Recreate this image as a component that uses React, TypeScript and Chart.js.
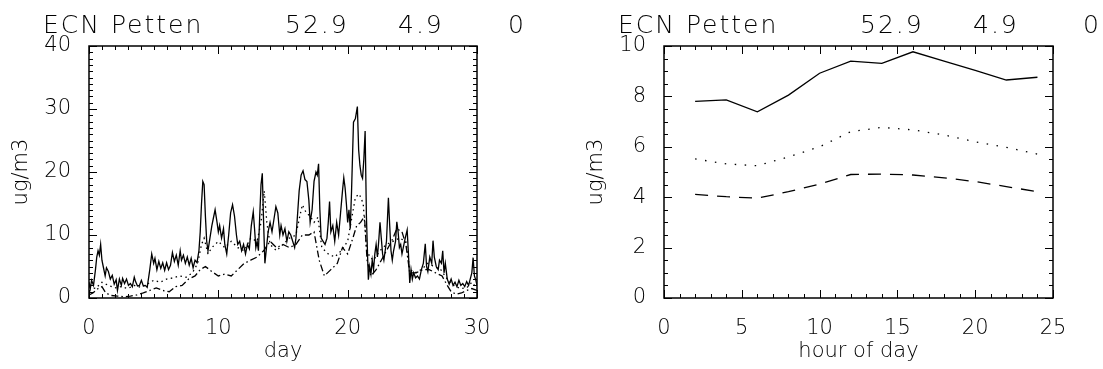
import { useEffect, useRef } from "react";
import { Chart, registerables } from "chart.js";

Chart.register(...registerables);

const TITLE_PARTS = ["ECN Petten", "52.9", "4.9", "0"];
const Y_TITLE = "ug/m3";
const X_TITLE_DAY = "day";
const X_TITLE_HOUR = "hour of day";

// Left panel: daily time series (day, value)
const SOLID_DAYS = [
  0, 0.1, 0.2, 0.35, 0.5, 0.6, 0.7, 0.8, 0.9, 1.0, 1.1, 1.25, 1.35, 1.5, 1.65, 1.8, 1.95, 2.1, 2.2, 2.35,
  2.5, 2.6, 2.75, 2.9, 3.05, 3.2, 3.35, 3.5, 3.6, 3.75, 3.9, 4.05, 4.2, 4.35, 4.5, 4.7, 4.85, 5.0, 5.1, 5.25,
  5.4, 5.55, 5.7, 5.85, 6.0, 6.15, 6.3, 6.45, 6.6, 6.75, 6.9, 7.05, 7.15, 7.3, 7.45, 7.6, 7.75, 7.9, 8.05, 8.2,
  8.35, 8.5, 8.6, 8.7, 8.8, 8.9, 9.0, 9.1, 9.2, 9.35, 9.5, 9.6, 9.75, 9.9, 10.0, 10.1, 10.25, 10.4, 10.5, 10.65,
  10.8, 10.95, 11.1, 11.25, 11.4, 11.5, 11.65, 11.8, 11.95, 12.1, 12.25, 12.4, 12.55, 12.7, 12.8, 12.9, 13.0, 13.1, 13.2, 13.3,
  13.4, 13.5, 13.6, 13.7, 13.85, 14.0, 14.15, 14.3, 14.45, 14.6, 14.75, 14.85, 15.0, 15.15, 15.3, 15.45, 15.6, 15.75, 15.9, 16.0,
  16.1, 16.25, 16.4, 16.55, 16.7, 16.85, 17.0, 17.1, 17.25, 17.4, 17.55, 17.65, 17.75, 17.85, 17.95, 18.1, 18.25, 18.4, 18.5, 18.6,
  18.7, 18.85, 19.0, 19.15, 19.3, 19.45, 19.6, 19.7, 19.8, 19.9, 20.0, 20.1, 20.2, 20.3, 20.45, 20.6, 20.75, 20.85, 20.95, 21.05,
  21.15, 21.25, 21.35, 21.45, 21.55, 21.6, 21.7, 21.8, 21.9, 22.0, 22.1, 22.2, 22.3, 22.4, 22.5, 22.6, 22.7, 22.8, 22.9, 23.0,
  23.15, 23.25, 23.35, 23.45, 23.55, 23.7, 23.8, 23.9, 24.0, 24.1, 24.2, 24.3, 24.45, 24.6, 24.7, 24.8, 24.9, 25.0, 25.1, 25.25,
  25.4, 25.55, 25.7, 25.85, 26.0, 26.1, 26.2, 26.35, 26.5, 26.6, 26.7, 26.85, 27.0, 27.1, 27.25, 27.35, 27.45, 27.55, 27.7, 27.85,
  28.0, 28.15, 28.3, 28.45, 28.6, 28.75, 28.9, 29.05, 29.2, 29.35, 29.5, 29.6, 29.7, 29.8, 29.9, 30.0,
];
const SOLID_VALUES = [
  2.5, 1.5, 2.8, 2.0, 4.5, 6.5, 7.5, 6.8, 8.5, 6.0, 5.0, 3.5, 4.8, 4.2, 3.0, 3.6, 2.2, 2.9, 1.2, 3.0,
  2.0, 3.1, 2.3, 3.0, 2.0, 2.3, 1.8, 3.3, 2.6, 1.9, 2.0, 2.8, 1.9, 2.0, 1.7, 4.5, 7.0, 5.5, 6.3, 4.5,
  5.8, 4.7, 5.6, 4.4, 5.6, 4.5, 5.2, 7.2, 5.8, 6.8, 5.2, 7.5, 6.0, 6.8, 5.5, 6.5, 5.2, 6.3, 4.8, 6.0,
  5.6, 7.5, 10.5, 15.0, 18.5, 18.0, 13.0, 9.0, 7.5, 9.5, 11.5, 12.5, 14.0, 12.0, 10.5, 11.5, 9.5, 11.0, 8.5, 7.0,
  10.0, 13.5, 14.8, 13.0, 10.0, 8.5, 9.0, 7.5, 8.5, 7.0, 8.5, 7.8, 11.5, 13.7, 11.0, 8.0, 9.0, 7.5, 13.0, 18.0,
  19.8, 12.0, 5.5, 7.5, 10.5, 12.0, 10.5, 12.5, 14.5, 13.5, 10.0, 11.5, 10.0, 11.0, 9.0, 10.5, 10.0, 9.0, 8.0, 9.5,
  12.5, 17.0, 19.5, 20.2, 18.8, 18.5, 15.5, 12.0, 14.0, 18.5, 20.0, 19.5, 21.3, 14.0, 9.5, 9.0, 8.5, 9.5, 12.0, 15.3,
  10.5, 11.5, 9.0, 12.0, 10.0, 13.5, 17.0, 19.1, 17.5, 15.0, 12.0, 14.0, 11.0, 17.0, 27.9, 28.5, 30.4, 23.5, 21.0, 19.5,
  19.0, 22.0, 26.5, 13.0, 6.0, 2.9, 5.0, 3.8, 6.0, 4.5, 7.0, 8.5, 6.5, 9.0, 12.0, 9.5, 7.0, 6.0, 7.5, 9.0,
  15.9, 11.5, 7.5, 6.0, 7.5, 9.0, 12.1, 10.5, 8.0, 8.5, 7.0, 8.0, 9.5, 10.8, 7.0, 2.4, 4.5, 3.0, 4.0, 3.2,
  3.5, 3.0, 4.5, 5.5, 8.6, 5.0, 4.2, 6.5, 5.5, 9.1, 6.5, 5.0, 4.5, 6.0, 5.5, 7.5, 4.0, 5.5, 3.0, 2.2,
  3.0, 2.0, 2.5, 1.8, 2.8, 2.0, 2.3, 1.8, 2.6, 2.0, 3.2, 4.0, 6.4, 3.5, 2.9, 2.0,
];

const DOTTED_DAYS = [
  0, 0.5, 1.0, 1.5, 2.0, 2.5, 3.0, 3.5, 4.0, 4.5, 5.0, 5.5, 6.0, 6.5, 7.0, 7.5, 8.0, 8.4, 8.7, 8.9,
  9.2, 9.5, 10.0, 10.5, 11.0, 11.5, 12.0, 12.5, 13.0, 13.3, 13.55, 13.75, 14.0, 14.5, 15.0, 15.5, 16.0, 16.3, 16.5, 16.8,
  17.1, 17.4, 17.7, 18.0, 18.5, 19.0, 19.5, 20.0, 20.3, 20.6, 20.9, 21.2, 21.45, 21.7, 22.0, 22.5, 23.0, 23.5, 24.0, 24.5,
  24.8, 25.2, 25.7, 26.2, 26.7, 27.2, 27.7, 28.2, 28.7, 29.2, 29.6, 30.0,
];
const DOTTED_VALUES = [
  1.8, 1.5, 2.5, 2.0, 1.6, 1.8, 1.5, 2.0, 1.7, 2.2, 2.8, 2.5, 3.0, 3.2, 3.5, 3.3, 4.0, 5.5, 8.5, 9.5,
  7.0, 8.0, 9.0, 8.0, 9.0, 8.0, 7.5, 9.5, 9.0, 12.0, 17.0, 12.0, 8.5, 7.5, 8.5, 9.5, 10.0, 13.0, 14.8, 13.5,
  13.0, 12.0, 12.8, 8.0, 7.0, 6.5, 7.5, 9.0, 12.5, 16.0, 16.5, 15.0, 8.0, 6.5, 6.0, 7.5, 8.5, 9.0, 9.5, 9.0,
  4.5, 4.0, 4.5, 5.5, 5.0, 4.5, 3.0, 2.0, 1.5, 1.6, 2.5, 1.5,
];

const DASHDOT_DAYS = [
  0, 0.3, 0.7, 1.0, 1.3, 1.7, 2.2, 2.7, 3.2, 3.7, 4.2, 4.7, 5.2, 5.7, 6.2, 6.7, 7.2, 7.7, 8.2, 8.6,
  9.0, 9.5, 10.0, 10.5, 11.0, 11.5, 12.0, 12.5, 13.0, 13.5, 14.0, 14.5, 15.0, 15.5, 16.0, 16.5, 17.0, 17.4, 17.8, 18.2,
  18.7, 19.2, 19.6, 20.0, 20.4, 20.7, 21.0, 21.3, 21.5, 21.8, 22.2, 22.6, 23.0, 23.4, 23.8, 24.2, 24.5, 24.8, 25.3, 25.8,
  26.3, 26.8, 27.3, 27.7, 28.0, 28.4, 28.8, 29.2, 29.6, 30.0,
];
const DASHDOT_VALUES = [
  0.5, 0.8, 1.5, 1.8, 0.8, 0.4, 0.3, 0.2, 0.3, 0.5, 0.8, 1.2, 1.6, 1.2, 1.0, 1.8, 2.0, 3.0, 3.5, 4.5,
  5.0, 4.2, 3.5, 3.8, 3.5, 4.5, 5.5, 6.0, 6.5, 7.5, 9.0, 8.0, 8.5, 8.0, 8.5, 10.0, 10.0, 10.5, 6.0, 3.5,
  4.5, 5.5, 8.0, 7.0, 9.5, 11.5, 12.0, 13.0, 6.0, 3.5, 4.5, 6.0, 7.5, 9.0, 11.0, 10.5, 8.5, 4.0, 4.0, 4.5,
  4.5, 4.0, 3.5, 2.0, 1.0, 0.6, 0.8, 1.2, 1.5, 1.2,
];

// Right panel: diurnal cycle
const HOURS = [2, 4, 6, 8, 10, 12, 14, 16, 18, 20, 22, 24];
const HOUR_SOLID = [7.8, 7.86, 7.39, 8.05, 8.92, 9.4, 9.31, 9.77, 9.4, 9.03, 8.65, 8.76];
const HOUR_DOTTED = [5.52, 5.32, 5.25, 5.6, 6.0, 6.6, 6.77, 6.67, 6.47, 6.2, 5.98, 5.71];
const HOUR_DASHED = [4.11, 4.02, 3.96, 4.22, 4.52, 4.9, 4.92, 4.88, 4.77, 4.62, 4.42, 4.22];

const FAMILY = "'DejaVu Sans', 'Liberation Sans', sans-serif";
const TICK_FONT = { family: FAMILY, size: 21, weight: 200 as any };

const pairs = (xs: number[], ys: number[]) => xs.map((x, i) => ({ x, y: ys[i] }));

const framePlugin = {
  id: "frame",
  afterDatasetsDraw(chart: any, _args: any, opts: any) {
    const { ctx, chartArea: a, scales } = chart;
    ctx.save();
    ctx.strokeStyle = "#000";
    ctx.lineWidth = 1;
    const ticks = (scale: any, major: number, minor: number, horizontal: boolean) => {
      const n = Math.round((scale.max - scale.min) / minor);
      for (let i = 0; i <= n; i++) {
        const v = scale.min + i * minor;
        const isMajor = Math.abs(v / major - Math.round(v / major)) < 1e-6;
        const len = isMajor ? 8 : 4;
        const p = Math.round(scale.getPixelForValue(v)) + 0.5;
        ctx.beginPath();
        if (horizontal) {
          ctx.moveTo(p, a.bottom);
          ctx.lineTo(p, a.bottom - len);
          ctx.moveTo(p, a.top);
          ctx.lineTo(p, a.top + len);
        } else {
          ctx.moveTo(a.left, p);
          ctx.lineTo(a.left + len, p);
          ctx.moveTo(a.right, p);
          ctx.lineTo(a.right - len, p);
        }
        ctx.stroke();
      }
    };
    ticks(scales.x, opts.xMajor, opts.xMinor, true);
    ticks(scales.y, opts.yMajor, opts.yMinor, false);
    ctx.lineWidth = 1.5;
    ctx.strokeRect(a.left, a.top, a.right - a.left, a.bottom - a.top);
    ctx.restore();
  },
};

const headerPlugin = {
  id: "header",
  afterDraw(chart: any, _args: any, opts: any) {
    const { ctx, chartArea: a } = chart;
    ctx.save();
    ctx.fillStyle = "#000";
    ctx.font = `200 25px ${FAMILY}`;
    ctx.textBaseline = "alphabetic";
    ctx.textAlign = "left";
    try {
      (ctx as any).letterSpacing = "2px";
    } catch (e) {}
    const offsets = [-46, 196, 309, 419];
    (opts.parts as string[]).forEach((t, i) => ctx.fillText(t, a.left + offsets[i], 33));
    ctx.restore();
  },
};

function makeConfig(
  datasets: any[],
  xMax: number,
  xStep: number,
  xMinor: number,
  yMax: number,
  yStep: number,
  yMinor: number,
  xTitle: string,
  rightPad: number
): any {
  return {
    type: "line",
    data: { datasets },
    options: {
      responsive: false,
      animation: false,
      events: [],
      layout: { padding: { left: 0, top: 46, right: rightPad, bottom: 0 } },
      elements: { point: { radius: 0 }, line: { tension: 0, borderWidth: 1.3, borderColor: "#000" } },
      plugins: {
        legend: { display: false },
        tooltip: { enabled: false },
        frame: { xMajor: xStep, xMinor, yMajor: yStep, yMinor },
        header: { parts: TITLE_PARTS },
      },
      scales: {
        x: {
          type: "linear",
          min: 0,
          max: xMax,
          ticks: { stepSize: xStep, font: TICK_FONT, color: "#000", padding: 10, maxRotation: 0, autoSkip: false },
          grid: { display: false },
          border: { display: false },
          title: { display: true, text: xTitle, font: TICK_FONT, color: "#000", padding: { top: 0, bottom: 5 } },
          afterFit: (s: any) => {
            s.height = 71;
          },
        },
        y: {
          type: "linear",
          min: 0,
          max: yMax,
          ticks: { stepSize: yStep, font: TICK_FONT, color: "#000", padding: 10 },
          grid: { display: false },
          border: { display: false },
          title: { display: true, text: Y_TITLE, font: TICK_FONT, color: "#000", padding: { top: 9, bottom: 0 } },
          afterFit: (s: any) => {
            s.width = 89;
          },
        },
      },
    },
    plugins: [framePlugin, headerPlugin],
  };
}

export default function App() {
  const leftRef = useRef<HTMLCanvasElement>(null);
  const rightRef = useRef<HTMLCanvasElement>(null);

  useEffect(() => {
    const line = (data: any[], dash: number[]) => ({
      data,
      borderColor: "#000",
      borderWidth: 1.3,
      borderDash: dash,
      fill: false,
      pointRadius: 0,
    });
    const left = new Chart(
      leftRef.current!,
      makeConfig(
        [
          line(pairs(SOLID_DAYS, SOLID_VALUES), []),
          line(pairs(DOTTED_DAYS, DOTTED_VALUES), [1.5, 3.5]),
          line(pairs(DASHDOT_DAYS, DASHDOT_VALUES), [7, 3, 1.5, 3]),
        ],
        30, 10, 1, 40, 10, 1, X_TITLE_DAY, 98
      )
    );
    const right = new Chart(
      rightRef.current!,
      makeConfig(
        [
          line(pairs(HOURS, HOUR_SOLID), []),
          line(pairs(HOURS, HOUR_DOTTED), [1.5, 8.5]),
          line(pairs(HOURS, HOUR_DASHED), [13, 9]),
        ],
        25, 5, 1, 10, 2, 0.5, X_TITLE_HOUR, 50
      )
    );
    return () => {
      left.destroy();
      right.destroy();
    };
  }, []);

  return (
    <div style={{ position: "absolute", left: 0, top: 0, width: 1103, height: 369, background: "#fff" }}>
      <canvas ref={leftRef} width={575} height={369} style={{ position: "absolute", left: 0, top: 0 }} />
      <canvas ref={rightRef} width={528} height={369} style={{ position: "absolute", left: 575, top: 0 }} />
    </div>
  );
}
